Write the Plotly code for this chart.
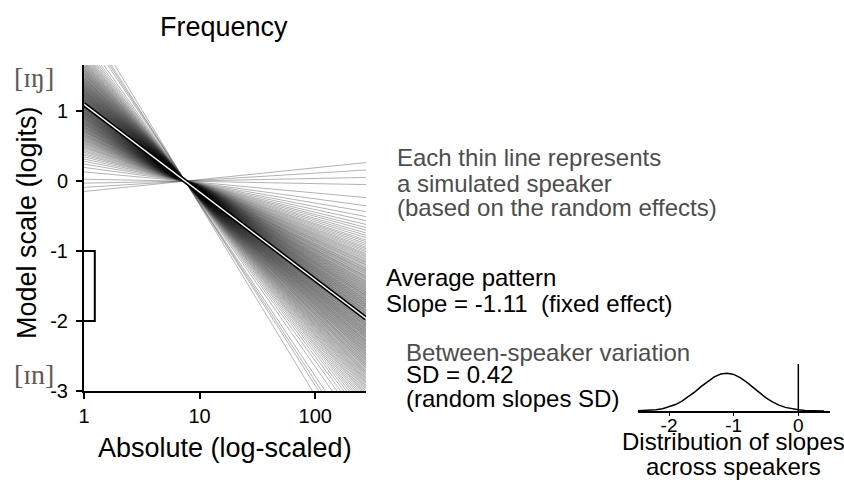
import numpy as np
import plotly.graph_objects as go

# simulated speaker slopes (model scale), read off the fan of thin lines
speaker_slopes = [
    -2.41, -2.30, -2.25, -2.192, -2.087, -2.021, -1.973, -1.933, -1.900, -1.870,
    -1.845, -1.824, -1.801, -1.782, -1.763, -1.744, -1.730, -1.715, -1.700, -1.685,
    -1.673, -1.660, -1.648, -1.635, -1.625, -1.614, -1.604, -1.593, -1.583, -1.572,
    -1.564, -1.555, -1.545, -1.538, -1.527, -1.517, -1.511, -1.501, -1.494, -1.488,
    -1.479, -1.471, -1.464, -1.454, -1.449, -1.442, -1.434, -1.429, -1.420, -1.412,
    -1.407, -1.400, -1.393, -1.387, -1.380, -1.375, -1.367, -1.362, -1.355, -1.349,
    -1.342, -1.337, -1.330, -1.324, -1.318, -1.312, -1.307, -1.299, -1.295, -1.291,
    -1.283, -1.278, -1.272, -1.265, -1.260, -1.255, -1.249, -1.244, -1.238, -1.232,
    -1.227, -1.223, -1.216, -1.211, -1.206, -1.200, -1.195, -1.190, -1.184, -1.177,
    -1.173, -1.169, -1.163, -1.156, -1.152, -1.148, -1.142, -1.135, -1.131, -1.127,
    -1.121, -1.114, -1.110, -1.106, -1.099, -1.093, -1.089, -1.085, -1.078, -1.072,
    -1.068, -1.064, -1.057, -1.051, -1.047, -1.043, -1.036, -1.030, -1.025, -1.020,
    -1.014, -1.009, -1.004, -0.997, -0.993, -0.988, -0.982, -0.976, -0.971, -0.965,
    -0.960, -0.955, -0.948, -0.942, -0.937, -0.929, -0.925, -0.921, -0.913, -0.908,
    -0.902, -0.896, -0.890, -0.883, -0.878, -0.871, -0.865, -0.858, -0.853, -0.845,
    -0.840, -0.833, -0.827, -0.820, -0.813, -0.808, -0.800, -0.791, -0.786, -0.778,
    -0.771, -0.766, -0.756, -0.749, -0.741, -0.732, -0.726, -0.719, -0.709, -0.703,
    -0.693, -0.682, -0.675, -0.665, -0.656, -0.648, -0.637, -0.627, -0.616, -0.606,
    -0.595, -0.585, -0.572, -0.560, -0.547, -0.535, -0.520, -0.505, -0.490, -0.476,
    -0.457, -0.438, -0.419, -0.396, -0.375, -0.350, -0.320, -0.287, -0.247, -0.199,
    -0.133, -0.028, 0.03, 0.09, 0.15,
]
fixed_slope = -1.11
slope_sd = 0.42
freq_range = [1, 275]
pivot_freq = 7.5
slope_scale = 1.13  # logits per log10 unit, per model slope unit

# density of slopes across speakers
dens_x = [-2.5, -2.4, -2.3, -2.2, -2.1, -2.0, -1.9, -1.8, -1.7, -1.6, -1.5, -1.4, -1.3,
          -1.2, -1.1, -1.0, -0.9, -0.8, -0.7, -0.6, -0.5, -0.4, -0.3, -0.2, -0.1, 0.0,
          0.1, 0.2, 0.3, 0.4]
dens_y = [0.004, 0.0085, 0.017, 0.033, 0.059, 0.101, 0.162, 0.246, 0.354, 0.481, 0.617,
          0.749, 0.858, 0.928, 0.950, 0.918, 0.838, 0.724, 0.590, 0.455, 0.331, 0.228,
          0.148, 0.091, 0.053, 0.029, 0.015, 0.0073, 0.0034, 0.0015]

y_ticks = [-3, -2, -1, 0, 1]
x_ticks = [1, 10, 100]
dens_ticks = [-2, -1, 0]

W, H = 844, 480
line_color = "#000000"
gray_text = "#4D4D4D"
serif_color = "#5E5A57"
font_family = "Liberation Sans, Arial, sans-serif"
serif_family = "Liberation Serif, DejaVu Serif, serif"


def fx(px):
    return px / W


def fy(py):
    return 1 - py / H


def speaker_line(slope):
    lx = np.log10(freq_range)
    return slope * slope_scale * (lx - np.log10(pivot_freq))


fig = go.Figure()

for s in speaker_slopes:
    fig.add_trace(
        go.Scatter(
            x=freq_range,
            y=speaker_line(s),
            mode="lines",
            line=dict(color="rgba(0,0,0,0.3)", width=1),
            hoverinfo="skip",
        )
    )

# average pattern: black line with white core
fig.add_trace(go.Scatter(x=freq_range, y=speaker_line(fixed_slope), mode="lines",
                         line=dict(color="black", width=4.5), hoverinfo="skip"))
fig.add_trace(go.Scatter(x=freq_range, y=speaker_line(fixed_slope), mode="lines",
                         line=dict(color="white", width=1.4), hoverinfo="skip"))

# bracket between -1 and -2
fig.add_trace(go.Scatter(x=[1, 1.24, 1.24, 1], y=[-1, -1, -2, -2], mode="lines",
                         line=dict(color="black", width=2), hoverinfo="skip"))

# inset density
fig.add_trace(go.Scatter(x=dens_x, y=dens_y, mode="lines", xaxis="x2", yaxis="y2",
                         line=dict(color="black", width=1.5), hoverinfo="skip"))

fig.add_shape(type="line", xref="x2", yref="y2 domain", x0=0, x1=0, y0=0, y1=1,
              line=dict(color="black", width=1.5))


def note(text, x, y, size=24, color="black", anchor="left", **kw):
    return dict(text=text, x=fx(x), y=fy(y), xanchor=anchor, yanchor="middle",
                xref="paper", yref="paper", showarrow=False,
                font=dict(size=size, color=color, **kw))


annotations = [
    note("Frequency", 224, 27, size=27, anchor="center"),
    dict(note("Model scale (logits)", 27, 223, size=27, anchor="center"), textangle=-90),
    note("Absolute (log-scaled)", 225, 448, size=27, anchor="center"),
    note("[ɪŋ]", 34, 77, size=28, color=serif_color, anchor="center", family=serif_family),
    note("[ɪn]", 34, 374, size=28, color=serif_color, anchor="center", family=serif_family),
    note("Each thin line represents", 395, 158, color=gray_text),
    note("a simulated speaker", 395, 183, color=gray_text),
    note("(based on the random effects)", 395, 207, color=gray_text),
    note("Average pattern", 384, 277),
    note("Slope = -1.11 \u00a0(fixed effect)", 384, 303),
    note("Between-speaker variation", 404, 352, color=gray_text),
    note("SD = 0.42", 404, 374),
    note("(random slopes SD)", 404, 398),
    note("Distribution of slopes", 733, 441, anchor="center"),
    note("across speakers", 733, 466, anchor="center"),
]

axis_style = dict(
    showgrid=False,
    zeroline=False,
    showline=True,
    linecolor=line_color,
    linewidth=2,
    ticks="outside",
    ticklen=6,
    tickwidth=2,
    tickcolor=line_color,
    tickfont=dict(size=20, color="black"),
    automargin=False,
)

fig.update_layout(
    width=W,
    height=H,
    margin=dict(l=0, r=0, t=0, b=0, autoexpand=False),
    paper_bgcolor="white",
    plot_bgcolor="white",
    showlegend=False,
    font=dict(family=font_family, size=20, color=line_color),
    annotations=annotations,
    xaxis=dict(
        axis_style,
        type="log",
        domain=[fx(84), fx(366)],
        range=[0, np.log10(freq_range[1])],
        tickvals=x_ticks,
        ticktext=[str(t) for t in x_ticks],
        ticklabelstandoff=0,
    ),
    yaxis=dict(
        axis_style,
        domain=[fy(391), fy(65)],
        range=[-3, 1.66],
        tickvals=y_ticks,
        ticktext=[str(t) for t in y_ticks],
        ticklabelstandoff=4,
    ),
    xaxis2=dict(
        axis_style,
        domain=[fx(638), fx(830)],
        range=[-2.48, 0.49],
        anchor="y2",
        tickvals=dens_ticks,
        ticktext=[str(t) for t in dens_ticks],
        ticklen=3,
        tickwidth=1,
        tickfont=dict(size=19, color="black"),
        ticklabelstandoff=-7,
    ),
    yaxis2=dict(
        domain=[fy(411), fy(364)],
        range=[0, 1.18],
        anchor="x2",
        visible=False,
    ),
)

fig.write_html(
    "out.html",
    config={"displayModeBar": False},
    post_script="document.body.style.margin='0';",
)
